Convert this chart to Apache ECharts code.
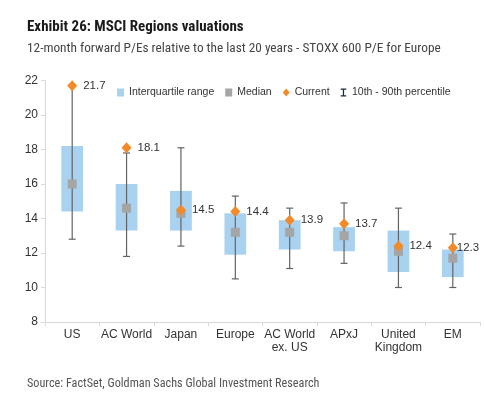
<!DOCTYPE html>
<html><head><meta charset="utf-8">
<script src="https://cdn.jsdelivr.net/npm/echarts@6/dist/echarts.min.js"></script>
<style>html,body{margin:0;padding:0;background:#fff}#c{width:484px;height:400px}</style>
</head><body><div id="c"></div>
<script>
const categories = ['US','AC World','Japan','Europe','AC World\nex. US','APxJ','United\nKingdom','EM'];
const p10     = [12.8, 11.8, 12.4, 10.5, 11.1, 11.4, 10.0, 10.0];
const q1      = [14.4, 13.3, 13.3, 11.9, 12.2, 12.1, 10.9, 10.6];
const median  = [16.0, 14.6, 14.3, 13.2, 13.2, 13.0, 12.1, 11.7];
const q3      = [18.2, 16.0, 15.6, 14.3, 13.9, 13.5, 13.3, 12.2];
const p90     = [21.7, 17.8, 18.1, 15.3, 14.6, 14.9, 14.6, 13.1];
const current = [21.7, 18.1, 14.5, 14.4, 13.9, 13.7, 12.4, 12.3];
const yMin = 8, yMax = 22, yStep = 2;

const chart = echarts.init(document.getElementById('c'));
const font = 'Arial, "Liberation Sans", sans-serif';
const cond = '"Roboto Condensed", "Liberation Sans Narrow", "Open Sans", Roboto, sans-serif';

chart.setOption({
  animation: false,
  textStyle: {fontFamily: font},
  title: [
    {text: 'Exhibit 26: MSCI Regions valuations', left: 22, top: 15,
     textStyle: {fontFamily: cond, fontSize: 15, fontWeight: 'bold', color: '#1a1a1a'}},
    {text: '12-month forward P/Es relative to the last 20 years - STOXX 600 P/E for Europe', left: 22, top: 37,
     textStyle: {fontFamily: cond, fontSize: 13.3, fontWeight: 'normal', color: '#444'}},
    {text: 'Source: FactSet, Goldman Sachs Global Investment Research', left: 22, top: 373,
     textStyle: {fontFamily: cond, fontSize: 12.2, fontWeight: 'normal', color: '#555'}}
  ],
  legend: {
    left: 112, top: 82, itemWidth: 7, itemHeight: 8, itemGap: 11,
    textStyle: {fontSize: 10.5, color: '#333', fontFamily: font},
    data: [
      {name: 'Interquartile range', icon: 'rect'},
      {name: 'Median', icon: 'rect'},
      {name: 'Current', icon: 'diamond'},
      {name: '10th - 90th percentile', icon: 'path://M0,0H7V1.5H4.3V8.5H7V10H0V8.5H2.7V1.5H0Z', itemStyle: {color: '#1f2a44'}}
    ]
  },
  grid: {left: 45, right: 4, top: 80.5, bottom: 78},
  xAxis: {
    type: 'category', data: categories, boundaryGap: true,
    axisLine: {show: true, lineStyle: {color: '#d9d9d9'}},
    axisTick: {show: true, length: 4, lineStyle: {color: '#d9d9d9'}},
    axisLabel: {fontSize: 12, color: '#333', margin: 6, lineHeight: 13, interval: 0}
  },
  yAxis: {
    type: 'value', min: yMin, max: yMax, interval: yStep,
    splitLine: {show: false},
    axisLine: {show: true, lineStyle: {color: '#d9d9d9'}},
    axisTick: {show: true, length: 4, lineStyle: {color: '#d9d9d9'}},
    axisLabel: {fontSize: 12, color: '#333', margin: 7}
  },
  series: [
    {
      name: 'Interquartile range', type: 'custom', color: '#a9d2f0',
      encode: {x: 0, y: [1, 2]},
      data: categories.map((c, i) => [i, q1[i], q3[i]]),
      renderItem(params, api) {
        const x = api.value(0);
        const lo = api.coord([x, api.value(1)]);
        const hi = api.coord([x, api.value(2)]);
        const w = api.size([1, 0])[0] * 0.4;
        return {type: 'rect', shape: {x: lo[0] - w / 2, y: hi[1], width: w, height: lo[1] - hi[1]},
                style: {fill: '#a9d2f0'}};
      }
    },
    {
      name: '10th - 90th percentile', type: 'custom', color: '#1f2a44', z: 3,
      encode: {x: 0, y: [1, 2]},
      data: categories.map((c, i) => [i, p10[i], p90[i]]),
      renderItem(params, api) {
        const x = api.value(0);
        const lo = api.coord([x, api.value(1)]);
        const hi = api.coord([x, api.value(2)]);
        const cw = 3.5;
        const st = {stroke: '#636363', lineWidth: 1.2};
        return {type: 'group', children: [
          {type: 'line', shape: {x1: lo[0], y1: lo[1], x2: hi[0], y2: hi[1]}, style: st},
          {type: 'line', shape: {x1: lo[0] - cw, y1: lo[1], x2: lo[0] + cw, y2: lo[1]}, style: st},
          {type: 'line', shape: {x1: hi[0] - cw, y1: hi[1], x2: hi[0] + cw, y2: hi[1]}, style: st}
        ]};
      }
    },
    {
      name: 'Median', type: 'scatter', symbol: 'rect', symbolSize: 9, z: 4,
      itemStyle: {color: '#a5a5a5', opacity: 1},
      data: median
    },
    {
      name: 'Current', type: 'scatter', symbol: 'diamond', symbolSize: [10, 11], z: 5,
      itemStyle: {color: '#f28a2a', opacity: 1},
      label: {show: true, position: 'right', distance: 6, fontSize: 11.5, color: '#333',
              formatter: p => p.value.toFixed(1)},
      data: current.map((v, i) => i === current.length - 1
        ? {value: v, label: {distance: -1}} : v)
    }
  ]
});
</script>
</body></html>
